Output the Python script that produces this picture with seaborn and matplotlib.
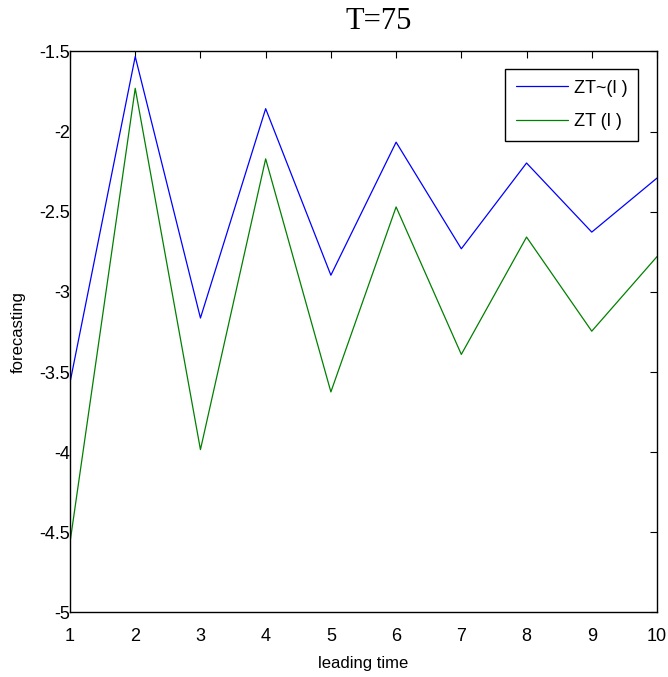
import matplotlib
matplotlib.use("Agg")
import matplotlib.pyplot as plt
import seaborn as sns
import pandas as pd

leading_time = [1, 2, 3, 4, 5, 6, 7, 8, 9, 10]
zt_tilde = [-3.565, -1.532, -3.163, -1.857, -2.896, -2.066, -2.731, -2.196, -2.627, -2.29]
zt = [-4.563, -1.73, -3.984, -2.17, -3.624, -2.47, -3.39, -2.658, -3.245, -2.78]
series_names = ["ZT~(l )", "ZT (l )"]
x_ticks = [1, 2, 3, 4, 5, 6, 7, 8, 9, 10]
y_ticks = [-5, -4.5, -4, -3.5, -3, -2.5, -2, -1.5]
y_tick_labels = ["-5", "-4.5", "-4", "-3.5", "-3", "-2.5", "-2", "-1.5"]

df = pd.DataFrame({
    "leading time": leading_time * 2,
    "forecasting": zt_tilde + zt,
    "series": [series_names[0]] * len(leading_time) + [series_names[1]] * len(leading_time),
})

sns.set_style("white")
plt.rcParams["font.family"] = ["Liberation Sans", "DejaVu Sans"]
plt.rcParams["text.color"] = "black"
plt.rcParams["axes.labelcolor"] = "black"

fig = plt.figure(figsize=(6.68, 6.77), dpi=100)
ax = fig.add_axes([0.1048, 0.0953, 0.8787, 0.8287])

sns.lineplot(data=df, x="leading time", y="forecasting", hue="series",
             palette={series_names[0]: (0, 0, 1), series_names[1]: (0, 0.5, 0)},
             linewidth=0.9, ax=ax, legend=False, estimator=None, sort=False)

ax.set_xlim(1, 10)
ax.set_ylim(-5, -1.5)
ax.set_xticks(x_ticks)
ax.set_xticklabels([str(t) for t in x_ticks])
ax.set_yticks(y_ticks)
ax.set_yticklabels(y_tick_labels)
ax.tick_params(direction="in", length=5, width=0.8, top=True, right=True,
               labelsize=13, colors="black")
ax.tick_params(axis="x", pad=11)
ax.tick_params(axis="y", pad=0)
for s in ax.spines.values():
    s.set_visible(True)
    s.set_color("black")
    s.set_linewidth(1.0)

ax.set_xlabel("leading time", fontsize=12, labelpad=8, color="black")
ax.set_ylabel("forecasting", fontsize=12, labelpad=10, color="black")
ax.set_title("T=75", fontsize=22, family=["Liberation Serif", "DejaVu Serif"],
             x=0.5256, pad=16, color="black")

handles = ax.get_lines()[:2]
leg = ax.legend(handles, series_names, loc="upper right",
                bbox_to_anchor=(0.9676, 0.9688), borderaxespad=0,
                fontsize=13, handlelength=2.9, handletextpad=0.3,
                fancybox=False, frameon=True,
                edgecolor="black", framealpha=1, borderpad=0.6, labelspacing=0.9)
leg.get_frame().set_linewidth(1.0)

fig.savefig("out.png", dpi=100)
